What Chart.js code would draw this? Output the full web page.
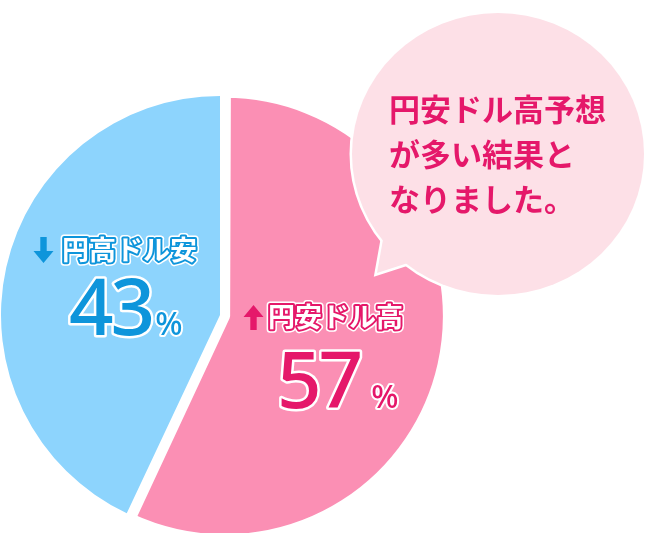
<!DOCTYPE html>
<html>
<head>
<meta charset="utf-8">
<script src="https://cdn.jsdelivr.net/npm/chart.js"></script>
<style>
  html, body { margin: 0; padding: 0; background: #fff; overflow: hidden; }
  #wrap { position: relative; width: 645px; height: 533px; }
</style>
</head>
<body>
<div id="wrap"><canvas id="pieChart"></canvas></div>
<script>
var sliceLabels = ['円安ドル高', '円高ドル安'];
var sliceValues = [57, 43];
var sliceColors = ['#fb8fb4', '#8dd4fd'];
var textColors = ['#e5186a', '#0e95db'];
var bubbleLines = ['円安ドル高予想', 'が多い結果と', 'なりました。'];

var CJK = '"Noto Sans CJK JP", sans-serif';
var NUM = '"Noto Sans", sans-serif';

function drawArrow(ctx, x, top, bottom, up, color) {
  var head = 12, hw = 10, sw = 3.2;
  ctx.beginPath();
  if (up) {
    ctx.moveTo(x, top);
    ctx.lineTo(x + hw, top + head);
    ctx.lineTo(x + sw, top + head);
    ctx.lineTo(x + sw, bottom);
    ctx.lineTo(x - sw, bottom);
    ctx.lineTo(x - sw, top + head);
    ctx.lineTo(x - hw, top + head);
  } else {
    ctx.moveTo(x, bottom);
    ctx.lineTo(x + hw, bottom - head);
    ctx.lineTo(x + sw, bottom - head);
    ctx.lineTo(x + sw, top);
    ctx.lineTo(x - sw, top);
    ctx.lineTo(x - sw, bottom - head);
    ctx.lineTo(x - hw, bottom - head);
  }
  ctx.closePath();
  ctx.fillStyle = color;
  ctx.fill();
}

// label spots relative to the pie centre
var spots = [
  { ax: 33.5, at: -10, ab: 15, tx: 48, ty: 2, nx: 57, ny: 93, gap: 11, up: true },
  { ax: -176.5, at: -78, ab: -52, tx: -158, ty: -65, nx: -151, ny: 20, gap: 3, up: false }
];

var labelPlugin = {
  id: 'sliceLabels',
  afterDatasetsDraw: function(chart) {
    var ctx = chart.ctx;
    var arcs = chart.getDatasetMeta(0).data;
    ctx.save();
    ctx.lineJoin = 'round';
    arcs.forEach(function(arc, i) {
      var s = spots[i];
      var cx = arc.x, cy = arc.y;
      var col = textColors[i];
      drawArrow(ctx, cx + s.ax, cy + s.at, cy + s.ab, s.up, col);

      ctx.font = 'bold 27px ' + CJK;
      ctx.textAlign = 'left';
      ctx.textBaseline = 'middle';
      ctx.strokeStyle = '#fff';
      ctx.lineWidth = 7;
      ctx.strokeText(sliceLabels[i], cx + s.tx, cy + s.ty);
      ctx.strokeStyle = col;
      ctx.lineWidth = 4;
      ctx.strokeText(sliceLabels[i], cx + s.tx, cy + s.ty);
      ctx.fillStyle = '#fff';
      ctx.fillText(sliceLabels[i], cx + s.tx, cy + s.ty);

      var num = String(sliceValues[i]);
      ctx.textBaseline = 'alphabetic';
      ctx.font = '500 78px ' + NUM;
      ctx.letterSpacing = '-3px';
      ctx.strokeStyle = '#fff';
      ctx.lineWidth = 5;
      ctx.strokeText(num, cx + s.nx, cy + s.ny);
      ctx.fillStyle = col;
      ctx.fillText(num, cx + s.nx, cy + s.ny);
      var w = ctx.measureText(num).width;
      ctx.letterSpacing = '0px';

      ctx.font = '500 32px ' + NUM;
      ctx.lineWidth = 4;
      ctx.strokeText('%', cx + s.nx + w + s.gap, cy + s.ny);
      ctx.fillText('%', cx + s.nx + w + s.gap, cy + s.ny);
    });
    ctx.restore();
  }
};

var bubblePlugin = {
  id: 'bubble',
  afterDraw: function(chart) {
    var ctx = chart.ctx;
    var bx = 498, by = 154, rx = 146, ry = 141;
    var tail = [[384, 234], [377, 273], [411, 262]];
    function circlePath() {
      ctx.beginPath();
      ctx.ellipse(bx, by, rx, ry, 0, 0, Math.PI * 2);
    }
    function tailPath() {
      ctx.beginPath();
      ctx.moveTo(tail[0][0], tail[0][1]);
      ctx.lineTo(tail[1][0], tail[1][1]);
      ctx.lineTo(tail[2][0], tail[2][1]);
      ctx.closePath();
    }
    ctx.save();
    ctx.strokeStyle = '#fff';
    ctx.lineWidth = 5;
    circlePath(); ctx.stroke();
    tailPath(); ctx.stroke();
    ctx.fillStyle = '#fde0e7';
    circlePath(); ctx.fill();
    tailPath(); ctx.fill();

    ctx.fillStyle = textColors[0];
    ctx.font = 'bold 31px ' + CJK;
    ctx.textAlign = 'left';
    ctx.textBaseline = 'middle';
    bubbleLines.forEach(function(line, i) {
      ctx.fillText(line, 389, 109 + i * 45);
    });
    ctx.restore();
  }
};

new Chart(document.getElementById('pieChart'), {
  type: 'pie',
  data: {
    labels: sliceLabels,
    datasets: [{
      data: sliceValues,
      backgroundColor: sliceColors,
      borderColor: '#fff',
      borderWidth: [11, 0],
      offset: [19, 0],
      hoverOffset: 0
    }]
  },
  options: {
    responsive: true,
    maintainAspectRatio: false,
    animation: false,
    events: [],
    radius: 219,
    layout: { padding: { left: 0, right: 205, top: 97, bottom: 0 } },
    plugins: {
      legend: { display: false },
      tooltip: { enabled: false }
    }
  },
  plugins: [labelPlugin, bubblePlugin]
});
</script>
</body>
</html>
